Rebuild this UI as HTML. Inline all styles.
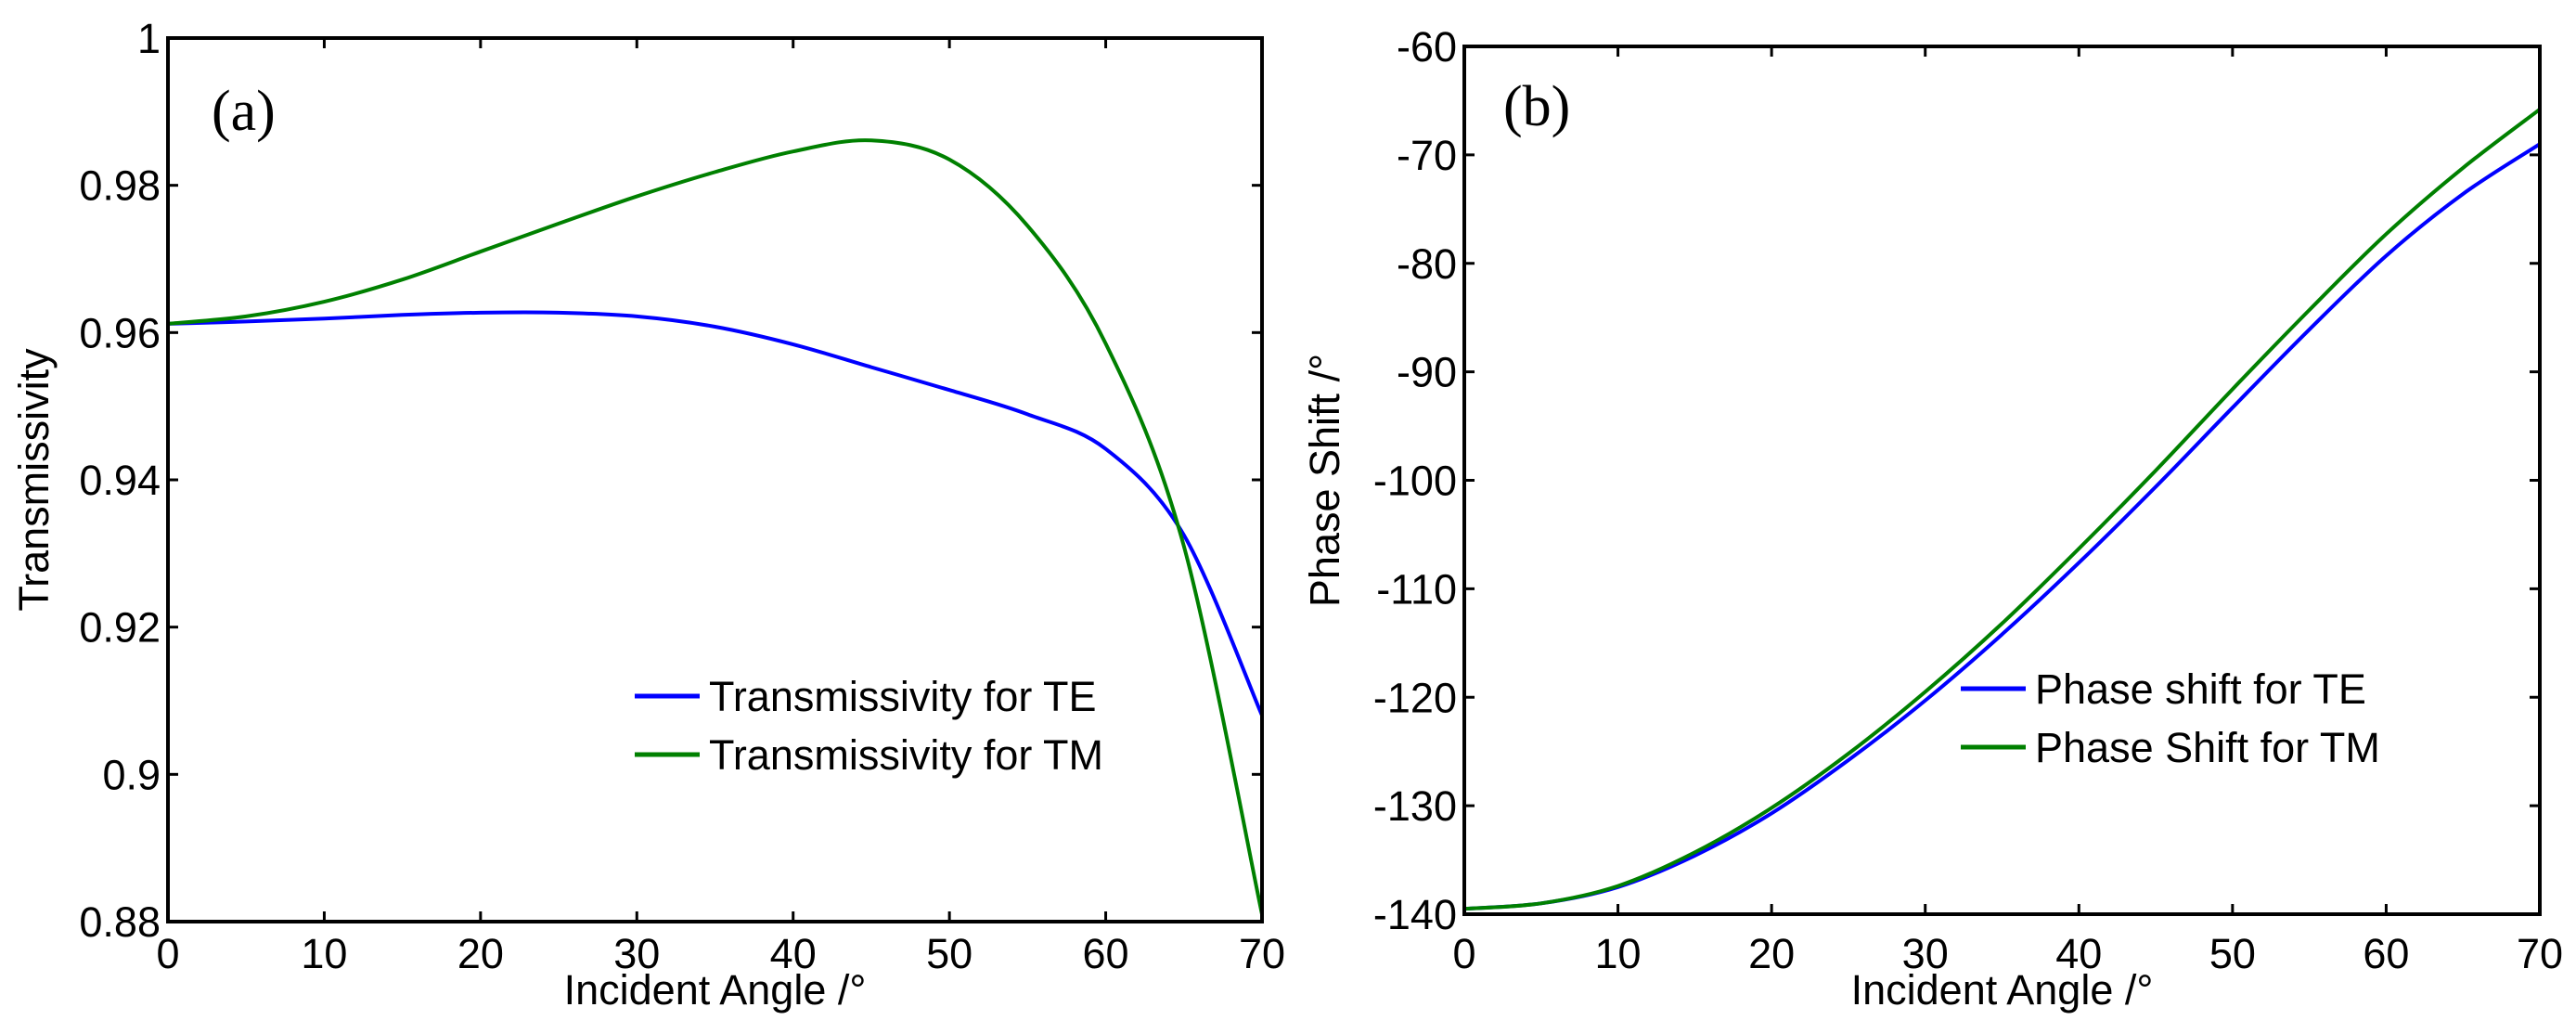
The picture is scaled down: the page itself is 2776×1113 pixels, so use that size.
<!DOCTYPE html>
<html><head><meta charset="utf-8"><style>
html,body{margin:0;padding:0;background:#fff;}
svg{display:block;font-family:"Liberation Sans",Arial,sans-serif;}
</style></head><body>
<svg id="fig" width="2776" height="1113" viewBox="0 0 2776 1113" xmlns="http://www.w3.org/2000/svg"></svg>
<script>
const angles = [0,5,10,15,20,25,30,35,40,45,50,55,60,65,70];
const transTE = [0.9612,0.9615,0.9619,0.9624,0.9627,0.9627,0.9622,0.9608,0.9584,0.9553,0.9522,0.9489,0.9442,0.9325,0.9080];
const transTM = [0.9612,0.9622,0.9642,0.9672,0.9710,0.9748,0.9785,0.9818,0.9846,0.9861,0.9835,0.9745,0.9585,0.9310,0.8810];
const phaseTE = [-139.5,-139.0,-137.5,-134.6,-130.7,-125.8,-120.3,-114.2,-107.6,-100.6,-93.3,-86.1,-79.3,-73.6,-69.0];
const phaseTM = [-139.5,-139.0,-137.4,-134.3,-130.2,-125.2,-119.5,-113.2,-106.3,-99.1,-91.6,-84.3,-77.3,-71.2,-65.8];
const xTicks = [0,10,20,30,40,50,60,70];
const yTicksA = [0.88,0.9,0.92,0.94,0.96,0.98,1];
const yTickLabelsA = ["0.88","0.9","0.92","0.94","0.96","0.98","1"];
const yTicksB = [-140,-130,-120,-110,-100,-90,-80,-70,-60];

const NS="http://www.w3.org/2000/svg";
const svg=document.getElementById('fig');
function mk(tag,attrs,parent){const e=document.createElementNS(NS,tag);for(const k in attrs)e.setAttribute(k,attrs[k]);(parent||svg).appendChild(e);return e;}

function smoothPath(pts){
  let d=`M${pts[0][0]},${pts[0][1]}`;
  for(let i=0;i<pts.length-1;i++){
    const p0=pts[Math.max(i-1,0)],p1=pts[i],p2=pts[i+1],p3=pts[Math.min(i+2,pts.length-1)];
    const c1=[p1[0]+(p2[0]-p0[0])/6,p1[1]+(p2[1]-p0[1])/6];
    const c2=[p2[0]-(p3[0]-p1[0])/6,p2[1]-(p3[1]-p1[1])/6];
    d+=` C${c1[0]},${c1[1]} ${c2[0]},${c2[1]} ${p2[0]},${p2[1]}`;
  }
  return d;
}

function panel(cfg){
  const g=mk('g',{});
  
  
  const {L,R,T,B,ymin,ymax}=cfg;
  const sx=v=>L+(v-0)/(70-0)*(R-L);
  const sy=v=>B-(v-ymin)/(ymax-ymin)*(B-T);
  cfg.series.forEach(s=>{
    const p=mk('path',{d:smoothPath(angles.map((a,i)=>[sx(a),sy(s.vals[i])])),fill:'none',stroke:s.color,'stroke-width':4},g);
    
    
  });
  const box=mk('rect',{x:L,y:T,width:R-L,height:B-T,fill:'none',stroke:'#000','stroke-width':4},g);
  
  
  xTicks.forEach(v=>{
    const x=sx(v);
    mk('line',{x1:x,x2:x,y1:B,y2:B-11,stroke:'#000','stroke-width':3},g);
    mk('line',{x1:x,x2:x,y1:T,y2:T+11,stroke:'#000','stroke-width':3},g);
    const t=mk('text',{x:x,y:1043,'font-size':45,'text-anchor':'middle'},g);
    t.textContent=v;
    
    
  });
  cfg.yTicks.forEach((v,i)=>{
    const y=sy(v);
    mk('line',{x1:L,x2:L+11,y1:y,y2:y,stroke:'#000','stroke-width':3},g);
    mk('line',{x1:R,x2:R-11,y1:y,y2:y,stroke:'#000','stroke-width':3},g);
    const t=mk('text',{x:L-8,y:y+16,'font-size':45,'text-anchor':'end'},g);
    t.textContent=cfg.yLabels[i];
    
    
  });
  const xt=mk('text',{x:(L+R)/2,y:1082,'font-size':45,'text-anchor':'middle'},g);
  xt.textContent='Incident Angle /°';
  
  
  const yt=mk('text',{x:0,y:0,'font-size':45,'text-anchor':'middle',transform:`translate(${cfg.ytx},${(T+B)/2}) rotate(-90)`},g);
  yt.textContent=cfg.ytitle;
  
  
  const pl=mk('text',{x:cfg.plx,y:cfg.ply,'font-size':62,'font-family':'"Liberation Serif",serif'},g);
  pl.textContent=cfg.label;
  
  
  cfg.series.forEach((s,i)=>{
    const y=cfg.legY+i*63;
    const ln=mk('line',{x1:cfg.legX,x2:cfg.legX+70,y1:y,y2:y,stroke:s.color,'stroke-width':5},g);
    
    
    const t=mk('text',{x:cfg.legX+80,y:y+16,'font-size':45},g);
    t.textContent=s.label;
    
    
  });
}

panel({name:'panel-a',L:181,R:1360,T:41,B:993,ymin:0.88,ymax:1,yTicks:yTicksA,yLabels:yTickLabelsA,
  ytitle:'Transmissivity',ytx:52,label:'(a)',plx:228,ply:140,legX:684,legY:750,
  series:[{id:'line-te',vals:transTE,color:'#0000ff',label:'Transmissivity for TE'},
          {id:'line-tm',vals:transTM,color:'#008000',label:'Transmissivity for TM'}]});
panel({name:'panel-b',L:1578,R:2737,T:50,B:985,ymin:-140,ymax:-60,yTicks:yTicksB,yLabels:yTicksB.map(String),
  ytitle:'Phase Shift /°',ytx:1443,label:'(b)',plx:1620,ply:135,legX:2113,legY:742,
  series:[{id:'line-phase-te',vals:phaseTE,color:'#0000ff',label:'Phase shift for TE'},
          {id:'line-phase-tm',vals:phaseTM,color:'#008000',label:'Phase Shift for TM'}]});
</script>
</body></html>
